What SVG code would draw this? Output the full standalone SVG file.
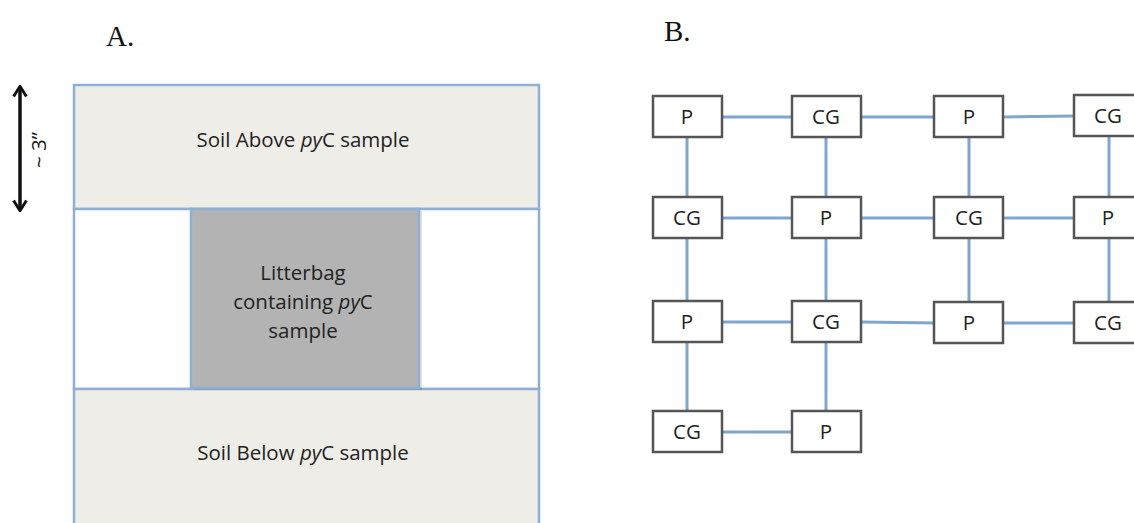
<svg xmlns="http://www.w3.org/2000/svg" width="1134" height="523" viewBox="0 0 1134 523">
<defs>
<marker id="ah" viewBox="0 0 10 10" refX="8" refY="5" markerWidth="16" markerHeight="16" markerUnits="userSpaceOnUse" orient="auto-start-reverse">
<path d="M2,1 L8.5,5 L2,9" fill="none" stroke="#111" stroke-width="1.8" stroke-linejoin="round"/>
</marker>
</defs>
<style>
.title{font-family:"Liberation Serif",serif;font-size:29px;fill:#111}
.lbl{font-family:"Open Sans","Liberation Sans",sans-serif;font-size:20.5px;fill:#222;text-anchor:middle}
.soil{fill:#efede7;stroke:#8fb0d4;stroke-width:2.5}
.node rect{fill:#fff;stroke:#555;stroke-width:2.5}
.node text{font-family:"Open Sans","Liberation Sans",sans-serif;font-size:20.5px;fill:#222;text-anchor:middle}
.conn line{stroke:#7fa6cc;stroke-width:3}
</style>
<rect width="1134" height="523" fill="#fff"/>
<text class="title" x="106" y="46">A.</text>
<text class="title" x="664" y="41">B.</text>

<g id="panelA">
<line x1="20" y1="87" x2="20" y2="210" stroke="#111" stroke-width="3.5" marker-start="url(#ah)" marker-end="url(#ah)"/>
<text class="lbl" transform="translate(46,150) rotate(-90)" font-size="17">~ 3”</text>
<rect id="soilAbove" class="soil" x="74" y="85" width="465" height="124"/>
<rect x="74" y="209" width="465" height="180" fill="#fff" stroke="#8fb0d4" stroke-width="2.5"/>
<rect id="soilBelow" class="soil" x="74" y="389" width="465" height="150"/>
<rect x="193" y="211" width="229" height="179" fill="#000" opacity="0.12"/>
<rect id="litterbag" x="191" y="209" width="228" height="179" fill="#b3b3b3" stroke="#8fb0d4" stroke-width="2.5"/>
<text class="lbl" x="303" y="147">Soil Above <tspan font-style="italic">py</tspan>C sample</text>
<text class="lbl" x="303" y="280">Litterbag</text>
<text class="lbl" x="303" y="309">containing <tspan font-style="italic">py</tspan>C</text>
<text class="lbl" x="303" y="338">sample</text>
<text class="lbl" x="303" y="460">Soil Below <tspan font-style="italic">py</tspan>C sample</text>
</g>

<g id="connectors" class="conn">
<line x1="722" y1="117" x2="792" y2="117"/>
<line x1="861" y1="117" x2="934" y2="117"/>
<line x1="1003" y1="117" x2="1074" y2="116"/>
<line x1="722" y1="218" x2="792" y2="218"/>
<line x1="861" y1="218" x2="934" y2="218"/>
<line x1="1003" y1="218" x2="1074" y2="218"/>
<line x1="722" y1="322" x2="792" y2="322"/>
<line x1="861" y1="322" x2="934" y2="323"/>
<line x1="1003" y1="323" x2="1074" y2="323"/>
<line x1="722" y1="432" x2="792" y2="432"/>
<line x1="687" y1="137" x2="687" y2="197"/>
<line x1="687" y1="238" x2="687" y2="301"/>
<line x1="687" y1="342" x2="687" y2="411"/>
<line x1="826" y1="137" x2="826" y2="197"/>
<line x1="826" y1="238" x2="826" y2="301"/>
<line x1="826" y1="342" x2="826" y2="411"/>
<line x1="969" y1="137" x2="969" y2="197"/>
<line x1="969" y1="238" x2="969" y2="302"/>
<line x1="1109" y1="137" x2="1109" y2="197"/>
<line x1="1109" y1="238" x2="1109" y2="302"/>
</g>

<g id="n11" class="node"><rect x="653" y="96" width="69" height="41"/><text x="687" y="124">P</text></g>
<g id="n12" class="node"><rect x="792" y="96" width="69" height="41"/><text x="826" y="124">CG</text></g>
<g id="n13" class="node"><rect x="934" y="96" width="69" height="41"/><text x="969" y="124">P</text></g>
<g id="n14" class="node"><rect x="1074" y="95" width="69" height="41"/><text x="1108" y="123">CG</text></g>
<g id="n21" class="node"><rect x="653" y="197" width="69" height="41"/><text x="687" y="225">CG</text></g>
<g id="n22" class="node"><rect x="792" y="197" width="69" height="41"/><text x="826" y="225">P</text></g>
<g id="n23" class="node"><rect x="934" y="197" width="69" height="41"/><text x="969" y="225">CG</text></g>
<g id="n24" class="node"><rect x="1074" y="197" width="69" height="41"/><text x="1108" y="225">P</text></g>
<g id="n31" class="node"><rect x="653" y="301" width="69" height="41"/><text x="687" y="329">P</text></g>
<g id="n32" class="node"><rect x="792" y="301" width="69" height="41"/><text x="826" y="329">CG</text></g>
<g id="n33" class="node"><rect x="934" y="302" width="69" height="41"/><text x="969" y="330">P</text></g>
<g id="n34" class="node"><rect x="1074" y="302" width="69" height="41"/><text x="1108" y="330">CG</text></g>
<g id="n41" class="node"><rect x="653" y="411" width="69" height="41"/><text x="687" y="439">CG</text></g>
<g id="n42" class="node"><rect x="792" y="411" width="69" height="41"/><text x="826" y="439">P</text></g>
</svg>
